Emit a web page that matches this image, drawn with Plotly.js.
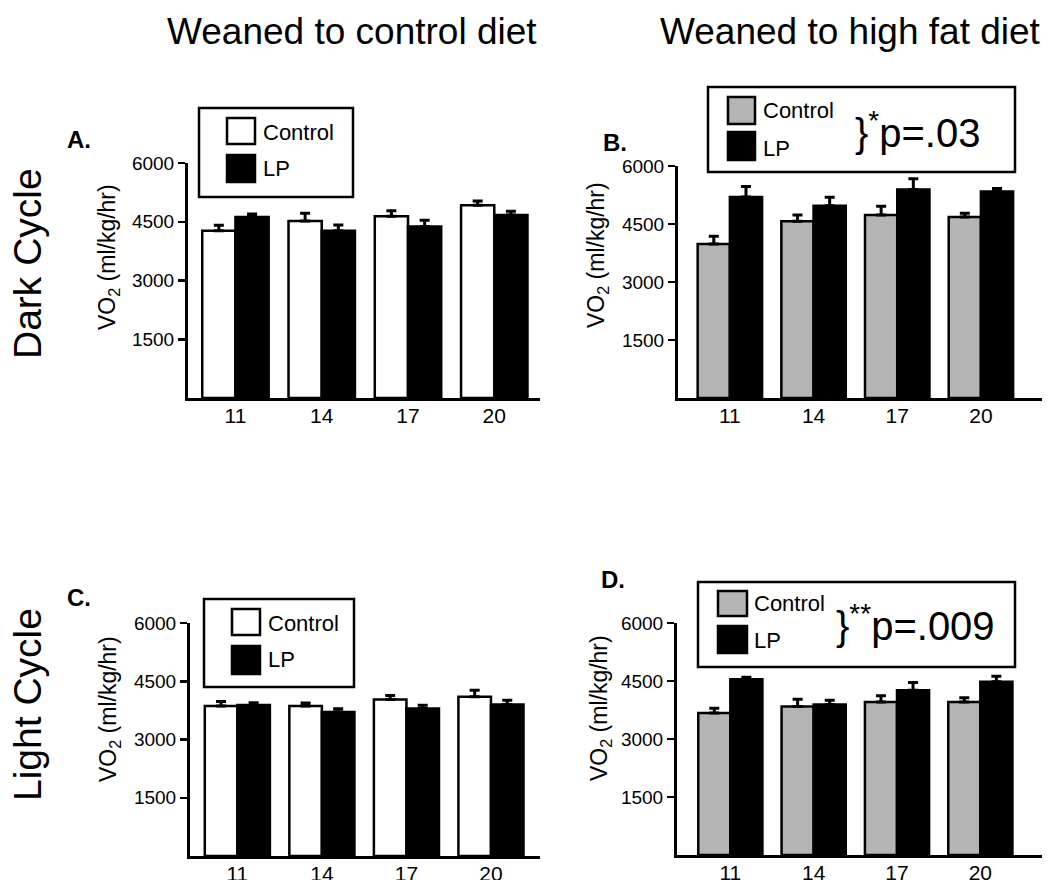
<!DOCTYPE html>
<html>
<head>
<meta charset="utf-8">
<script src="https://cdn.plot.ly/plotly-3.0.1.min.js"></script>
<style>html,body{margin:0;padding:0;background:#fff;}#chart{width:1050px;height:880px;}</style>
</head>
<body>
<div id="chart"></div>
<script>
// ---- data ----
const weeks = ['11', '14', '17', '20'];
const yTicks = [1500, 3000, 4500, 6000];

// A: dark cycle, weaned to control diet
const aControl = [4270, 4520, 4640, 4920];
const aControlErr = [140, 200, 140, 110];
const aLP = [4620, 4270, 4380, 4670];
const aLPErr = [80, 150, 160, 100];

// B: dark cycle, weaned to high fat diet
const bControl = [3980, 4570, 4730, 4680];
const bControlErr = [200, 160, 230, 100];
const bLP = [5200, 4970, 5390, 5340];
const bLPErr = [270, 220, 280, 80];

// C: light cycle, weaned to control diet
const cControl = [3860, 3860, 4030, 4100];
const cControlErr = [120, 80, 100, 170];
const cLP = [3890, 3710, 3800, 3900];
const cLPErr = [55, 80, 80, 110];

// D: light cycle, weaned to high fat diet
const dControl = [3670, 3840, 3960, 3960];
const dControlErr = [125, 190, 160, 110];
const dLP = [4545, 3890, 4260, 4480];
const dLPErr = [55, 110, 200, 140];

// ---- helpers ----
const W = 1050, H = 880;
const px = x => x / W;
const py = y => 1 - y / H;
const FONT = 'Liberation Sans, Arial, sans-serif';
const GRAY = '#b4b4b4';

function barTrace(y, err, fill, xa, ya, name) {
  return {
    type: 'bar', x: weeks, y: y, name: name, xaxis: xa, yaxis: ya,
    marker: {color: fill, line: {color: '#000', width: 2.5}},
    error_y: {type: 'data', array: err, arrayminus: err.map(() => 0), symmetric: false,
              color: '#000', thickness: 3, width: 5},
    showlegend: false, hoverinfo: 'x+y'
  };
}

const data = [
  barTrace(aControl, aControlErr, '#fff', 'x', 'y', 'Control'),
  barTrace(aLP, aLPErr, '#000', 'x', 'y', 'LP'),
  barTrace(bControl, bControlErr, GRAY, 'x2', 'y2', 'Control'),
  barTrace(bLP, bLPErr, '#000', 'x2', 'y2', 'LP'),
  barTrace(cControl, cControlErr, '#fff', 'x3', 'y3', 'Control'),
  barTrace(cLP, cLPErr, '#000', 'x3', 'y3', 'LP'),
  barTrace(dControl, dControlErr, GRAY, 'x4', 'y4', 'Control'),
  barTrace(dLP, dLPErr, '#000', 'x4', 'y4', 'LP')
];

function xAxis(x0, x1, r, anchor) {
  return {domain: [px(x0), px(x1)], range: r, type: 'category', anchor: anchor,
          showline: true, linecolor: '#000', linewidth: 3, ticks: '', showgrid: false,
          ticklabelstandoff: -3,
          zeroline: false, tickfont: {family: FONT, size: 21, color: '#000'}, fixedrange: true};
}
function yAxis(yTop, yBot, anchor) {
  return {domain: [py(yBot), py(yTop)], range: [0, 6000], anchor: anchor,
          showline: true, linecolor: '#000', linewidth: 3, ticks: 'outside', ticklen: 7,
          tickwidth: 2.5, tickcolor: '#000', tickvals: yTicks, ticktext: yTicks.map(String),
          showgrid: false, zeroline: false, tickfont: {family: FONT, size: 19, color: '#000'},
          fixedrange: true};
}

const shapes = [];
const annotations = [];
function rect(x0, y0, x1, y1, fill, w) {
  shapes.push({type: 'rect', xref: 'paper', yref: 'paper', x0: px(x0), x1: px(x1),
               y0: py(y1), y1: py(y0), fillcolor: fill, line: {color: '#000', width: w}});
}
function txt(text, x, y, size, opts) {
  annotations.push(Object.assign({text: text, xref: 'paper', yref: 'paper', x: px(x), y: py(y),
    showarrow: false, xanchor: 'left', yanchor: 'middle',
    font: {family: FONT, size: size, color: '#000'}}, opts || {}));
}

// legends (boxes drawn as shapes)
function legend(box, sq1, sq2, fill1, textX, ty1, ty2) {
  rect(box[0], box[1], box[2], box[3], '#fff', 2.5);
  rect(sq1[0], sq1[1], sq1[2], sq1[3], fill1, 2.5);
  rect(sq2[0], sq2[1], sq2[2], sq2[3], '#000', 2.5);
  txt('Control', textX, ty1, 22);
  txt('LP', textX, ty2, 22);
}
legend([199, 108, 353, 197], [227, 118, 255, 144], [227, 155, 255, 182], '#fff', 261, 132, 168);
legend([708, 87, 1015, 172], [728, 97, 755, 124], [728, 132, 755, 160], GRAY, 761, 111, 148);
legend([204, 599, 354, 687], [232, 609, 260, 635], [232, 646, 260, 674], '#fff', 266, 623, 659);
legend([698, 582, 1015, 667], [718, 591, 747, 616], [718, 626, 747, 653], GRAY, 752, 603, 640);

txt('}<sup>*</sup>p=.03', 853, 130, 40);
txt('}<sup>**</sup>p=.009', 834, 623, 40);

// panel letters
txt('<b>A.</b>', 65, 140, 24);
txt('<b>B.</b>', 601, 142, 24);
txt('<b>C.</b>', 65, 597, 24);
txt('<b>D.</b>', 599, 579, 24);

// column and row titles
txt('Weaned to control diet', 352, 31, 37, {xanchor: 'center'});
txt('Weaned to high fat diet', 850, 31, 37, {xanchor: 'center'});
txt('Dark Cycle', 27, 264, 39, {xanchor: 'center', textangle: -90});
txt('Light Cycle', 27, 705, 39, {xanchor: 'center', textangle: -90});

// y-axis titles
const yTitle = 'VO<sub>2</sub> (ml/kg/hr)';
txt(yTitle, 109, 257, 23, {xanchor: 'center', textangle: -90});
txt(yTitle, 597, 255, 23, {xanchor: 'center', textangle: -90});
txt(yTitle, 109, 709, 23, {xanchor: 'center', textangle: -90});
txt(yTitle, 600, 708, 23, {xanchor: 'center', textangle: -90});

const layout = {
  width: W, height: H, margin: {l: 0, r: 0, t: 0, b: 0},
  paper_bgcolor: '#fff', plot_bgcolor: 'rgba(0,0,0,0)',
  barmode: 'group', bargap: 0.23, bargroupgap: 0,
  showlegend: false,
  xaxis: xAxis(188, 540, [-0.55, 3.53], 'y'),
  yaxis: yAxis(163, 398, 'x'),
  xaxis2: xAxis(678, 1042, [-0.62, 3.73], 'y2'),
  yaxis2: yAxis(166, 398, 'x2'),
  xaxis3: xAxis(190, 540, [-0.56, 3.58], 'y3'),
  yaxis3: yAxis(623, 856, 'x3'),
  xaxis4: xAxis(677, 1042, [-0.64, 3.74], 'y4'),
  yaxis4: yAxis(623, 855, 'x4'),
  shapes: shapes,
  annotations: annotations
};

Plotly.newPlot('chart', data, layout, {displayModeBar: false, staticPlot: true});
</script>
</body>
</html>
